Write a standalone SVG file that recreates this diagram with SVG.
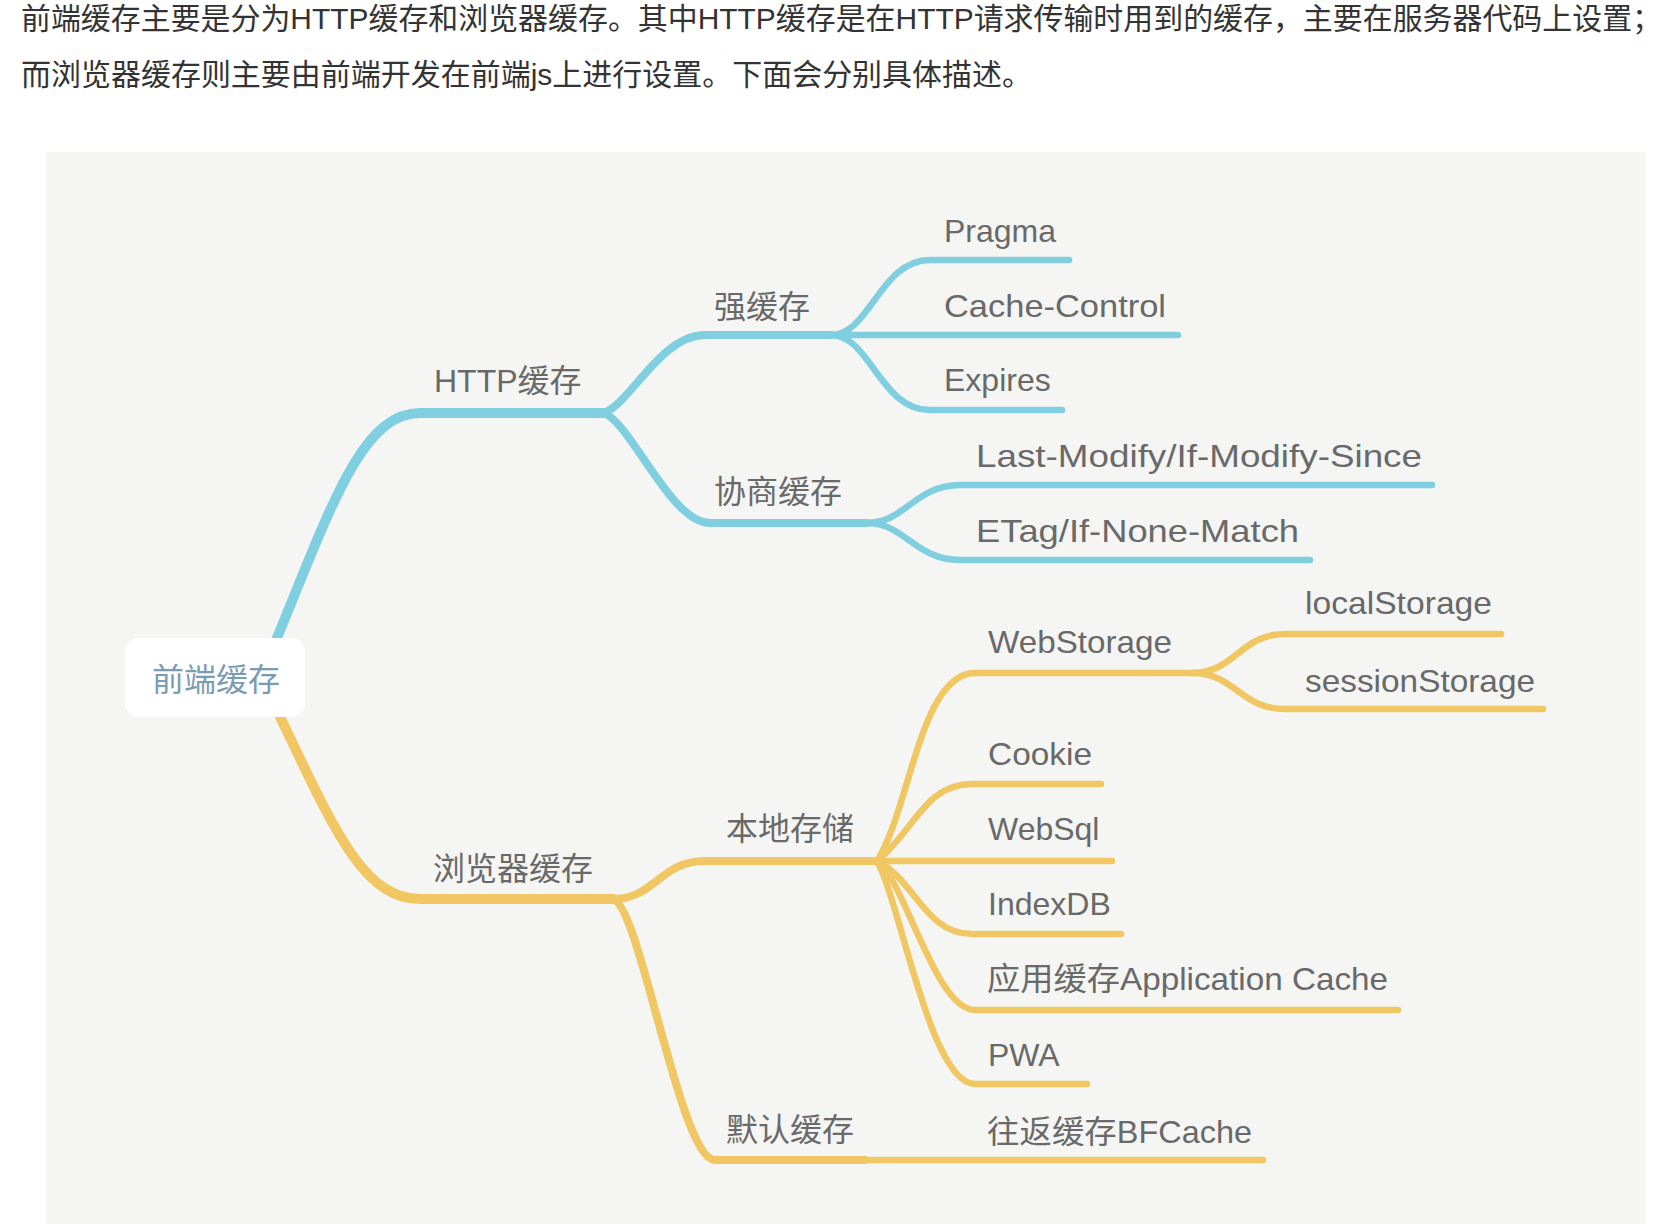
<svg xmlns="http://www.w3.org/2000/svg" width="1668" height="1224" viewBox="0 0 1668 1224">
<style>
.p{font-family:"Liberation Sans","Noto Sans CJK SC",sans-serif;font-size:30px;fill:#333}
.t{font-family:"Liberation Sans","Noto Sans CJK SC",sans-serif;font-size:32px;fill:#696969}
.r{font-family:"Liberation Sans","Noto Sans CJK SC",sans-serif;font-size:32px;fill:#7b9bb3}
.c{fill:none;stroke-linecap:round;stroke-linejoin:round}
.b{stroke:#80cfe0}
.y{stroke:#f0c763}
.w1{stroke-width:10}
.w2{stroke-width:8}
.w3{stroke-width:6.5}
</style>
<rect x="0" y="0" width="1668" height="1224" fill="#ffffff"/>
<text class="p" x="21" y="29" textLength="1641" lengthAdjust="spacingAndGlyphs">前端缓存主要是分为HTTP缓存和浏览器缓存。其中HTTP缓存是在HTTP请求传输时用到的缓存，主要在服务器代码上设置；</text>
<text class="p" x="21" y="85" textLength="1011" lengthAdjust="spacingAndGlyphs">而浏览器缓存则主要由前端开发在前端js上进行设置。下面会分别具体描述。</text>
<rect x="46" y="152" width="1600" height="1072" fill="#f5f6f4"/>
<g id="connectors">
<path class="c b w1" d="M268,660 C 330,510 360,413 420,413 L603,413"/>
<path class="c b w2" d="M603,413 C 630,405 660,335 705,335 L831,335"/>
<path class="c b w2" d="M603,413 C 630,420 670,523 710,523 L867,523"/>
<path class="c b w3" d="M831,335 C 870,335 880,260 930,260 L1069,260"/>
<path class="c b w3" d="M831,335 L1178,335"/>
<path class="c b w3" d="M831,335 C 870,335 880,410 930,410 L1062,410"/>
<path class="c b w3" d="M867,523 C 905,523 915,485 960,485 L1432,485"/>
<path class="c b w3" d="M867,523 C 905,523 915,560 960,560 L1310,560"/>
<path class="c y w1" d="M272,700 C 330,820 360,899 420,899 L613,899"/>
<path class="c y w2" d="M613,899 C 655,899 660,861 705,861 L877,861"/>
<path class="c y w2" d="M613,899 C 640,905 680,1160 715,1160 L865,1160"/>
<path class="c y w3" d="M865,1160 L1263,1160"/>
<path class="c y w3" d="M877,861 C 910,810 920,673 975,673 L1192,673"/>
<path class="c y w3" d="M1192,673 C 1235,673 1240,634 1285,634 L1501,634"/>
<path class="c y w3" d="M1192,673 C 1235,673 1240,709 1285,709 L1543,709"/>
<path class="c y w3" d="M877,861 C 915,830 925,784 972,784 L1101,784"/>
<path class="c y w3" d="M877,861 L1112,861"/>
<path class="c y w3" d="M877,861 C 915,880 925,934 972,934 L1121,934"/>
<path class="c y w3" d="M877,861 C 905,880 935,1010 975,1010 L1398,1010"/>
<path class="c y w3" d="M877,861 C 900,900 930,1084 975,1084 L1087,1084"/>
</g>
<g id="root">
<rect x="125" y="638" width="180" height="79" rx="14" fill="#ffffff"/>
<text class="r" x="152" y="691">前端缓存</text>
</g>
<g id="http"><text class="t" x="434" y="392">HTTP缓存</text></g>
<g id="strong"><text class="t" x="714" y="318">强缓存</text></g>
<g id="negotiate"><text class="t" x="714" y="503">协商缓存</text></g>
<g id="pragma"><text class="t" x="944" y="242">Pragma</text></g>
<g id="cachecontrol"><text class="t" x="944" y="317" textLength="222" lengthAdjust="spacingAndGlyphs">Cache-Control</text></g>
<g id="expires"><text class="t" x="944" y="391">Expires</text></g>
<g id="lastmodify"><text class="t" x="976" y="467" textLength="446" lengthAdjust="spacingAndGlyphs">Last-Modify/If-Modify-Since</text></g>
<g id="etag"><text class="t" x="976" y="542" textLength="323" lengthAdjust="spacingAndGlyphs">ETag/If-None-Match</text></g>
<g id="browser"><text class="t" x="433" y="880">浏览器缓存</text></g>
<g id="local"><text class="t" x="726" y="840">本地存储</text></g>
<g id="default"><text class="t" x="726" y="1141">默认缓存</text></g>
<g id="webstorage"><text class="t" x="988" y="653" textLength="184" lengthAdjust="spacingAndGlyphs">WebStorage</text></g>
<g id="localstorage"><text class="t" x="1305" y="614" textLength="187" lengthAdjust="spacingAndGlyphs">localStorage</text></g>
<g id="sessionstorage"><text class="t" x="1305" y="692" textLength="230" lengthAdjust="spacingAndGlyphs">sessionStorage</text></g>
<g id="cookie"><text class="t" x="988" y="765" textLength="104" lengthAdjust="spacingAndGlyphs">Cookie</text></g>
<g id="websql"><text class="t" x="988" y="840">WebSql</text></g>
<g id="indexdb"><text class="t" x="988" y="915">IndexDB</text></g>
<g id="appcache"><text class="t" x="987" y="990" textLength="401" lengthAdjust="spacingAndGlyphs">应用缓存Application Cache</text></g>
<g id="pwa"><text class="t" x="988" y="1066">PWA</text></g>
<g id="bfcache"><text class="t" x="987" y="1143" textLength="265" lengthAdjust="spacingAndGlyphs">往返缓存BFCache</text></g>
</svg>
